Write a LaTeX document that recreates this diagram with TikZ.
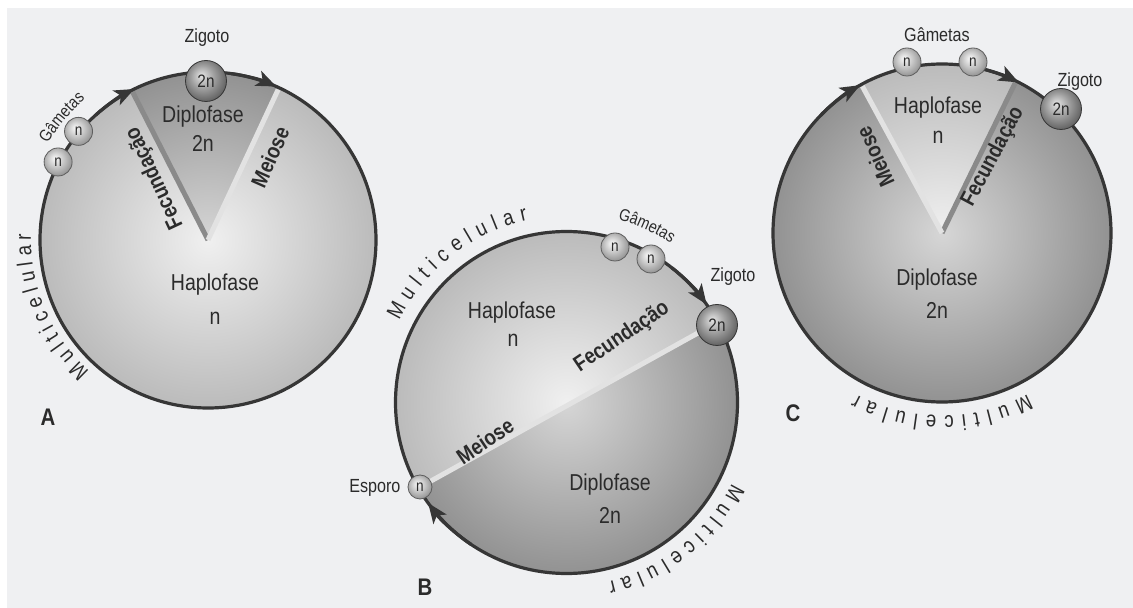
\documentclass[tikz,border=0pt]{standalone}
\usepackage{fontspec}
\setmainfont{Liberation Sans}[FakeStretch=0.85]
\usetikzlibrary{arrows.meta,decorations.text,calc}

\definecolor{bg}{HTML}{EFF0F2}
\definecolor{outl}{HTML}{363636}
\definecolor{txt}{HTML}{2B2B2B}
\definecolor{lc0}{HTML}{F0F0F0}
\definecolor{lc1}{HTML}{BBBBBB}
\definecolor{dc0}{HTML}{D6D6D6}
\definecolor{dc1}{HTML}{929292}
\definecolor{g0}{HTML}{FAFAFA}
\definecolor{g1}{HTML}{C8C8C8}
\definecolor{g2}{HTML}{8C8C8C}
\definecolor{z0}{HTML}{E4E4E4}
\definecolor{z1}{HTML}{A0A0A0}
\definecolor{z2}{HTML}{5A5A5A}
\definecolor{fecl}{HTML}{8A8A8A}
\definecolor{meil}{HTML}{E2E2E2}

\pgfdeclareradialshading{disclight}{\pgfpoint{0bp}{0bp}}{color(0bp)=(lc0); color(25bp)=(lc1); color(50bp)=(lc1)}
\pgfdeclareradialshading{discdark}{\pgfpoint{0bp}{0bp}}{color(0bp)=(dc0); color(25bp)=(dc1); color(50bp)=(dc1)}
\pgfdeclareradialshading{gamball}{\pgfpoint{-6bp}{7bp}}{color(0bp)=(g0); color(14bp)=(g1); color(30bp)=(g2); color(50bp)=(g2)}
\pgfdeclareradialshading{zygball}{\pgfpoint{-6bp}{7bp}}{color(0bp)=(z0); color(14bp)=(z1); color(30bp)=(z2); color(50bp)=(z2)}

\newcommand\mlfont{\fontsize{22}{22}\selectfont\color{txt}}
\newcommand\gmfont{\fontsize{17}{17}\selectfont\color{txt}}

\begin{document}
\begin{tikzpicture}[x=1pt,y=1pt,
  outline/.style={draw=outl, line width=3.2pt},
  tip/.style={draw=outl, line width=3.2pt, -{Stealth[length=20pt,width=16pt,inset=5pt]}},
  phase/.style={font=\fontsize{23}{25}\selectfont, text=txt},
  proc/.style={font=\bfseries\fontsize{22}{22}\selectfont, text=txt},
  small/.style={font=\fontsize{19}{19}\selectfont, text=txt},
  gam/.style={circle, minimum size=28pt, inner sep=0pt, shade, shading=gamball, draw=outl!80, line width=0.8pt, font=\fontsize{16}{16}\selectfont, text=txt},
  zyg/.style={circle, minimum size=41pt, inner sep=0pt, shade, shading=zygball, draw=outl, line width=0.8pt, font=\fontsize{18}{18}\selectfont, text=txt},
  lbl/.style={font=\bfseries\fontsize{24}{24}\selectfont, text=txt},
  arcfit/.style={decorate, decoration={text along path, text align={fit to path}, text={|\mlfont|#1}}},
  arcmid/.style={decorate, decoration={text along path, text align=center, text={|\gmfont|#1}}}
]
\fill[white] (0,0) rectangle (1133,608);
\fill[bg] (7,0) rectangle (1133,600);
\useasboundingbox (0,0) rectangle (1133,608);

% ---------------- A ----------------
\coordinate (cA) at (208,368);
\shade[shading=disclight] (cA) circle[radius=168pt];
\begin{scope}
\clip (cA) -- ($(cA)+(65:168pt)$) arc[start angle=65,end angle=117,radius=168pt] -- cycle;
\shade[shading=discdark] (cA) circle[radius=168pt];
\end{scope}
\draw[fecl, line width=5pt] (cA) -- ($(cA)+(117:166pt)$);
\draw[meil, line width=5pt] (cA) -- ($(cA)+(65:166pt)$);
\draw[outline] (cA) circle[radius=168pt];
\draw[tip] ($(cA)+(132:168pt)$) arc[start angle=132,end angle=116,radius=168pt];
\draw[tip] ($(cA)+(82:168pt)$) arc[start angle=82,end angle=66,radius=168pt];

\node[phase] (hA) at (215,323) {Haplofase};
\node[phase] (nA) at (215,290) {n};
\node[phase] (dA) at (203,491) {Diplofase};
\node[phase] (d2A) at (203,465) {2n};
\node[proc, rotate=115] (fA) at (155,430) {Fecundação};
\node[proc, rotate=66] (mA) at (270,451) {Meiose};

\node[gam] (gA1) at ($(cA)+(140:169pt)$) {n};
\node[gam] (gA2) at ($(cA)+(152.5:169pt)$) {n};
\node[zyg] (zA) at (206,527) {2n};
\node[small] (zlA) at (207,570) {Zigoto};
\path[arcmid=Gâmetas] ($(cA)+(156:187pt)$) arc[start angle=156,end angle=124,radius=187pt];
\path[arcfit=Multicelular] ($(cA)+(228:177pt)$) arc[start angle=228,end angle=178,radius=177pt];
\node[lbl] (lA) at (48,191) {A};

% ---------------- B ----------------
\coordinate (cB) at (566.5,205.5);
\shade[shading=disclight] (cB) circle[radius=171pt];
\begin{scope}
\clip ($(cB)+(28:171pt)$) arc[start angle=28,end angle=-150,radius=171pt] -- cycle;
\shade[shading=discdark] (cB) circle[radius=171pt];
\end{scope}
\draw[meil, line width=5pt] ($(cB)+(28:169pt)$) -- ($(cB)+(210:169pt)$);
\draw[outline] (cB) circle[radius=171pt];
\draw[tip] ($(cB)+(52:171pt)$) arc[start angle=52,end angle=35,radius=171pt];
\draw[tip] ($(cB)+(236:171pt)$) arc[start angle=236,end angle=216,radius=171pt];

\node[phase] (hB) at (512,295) {Haplofase};
\node[phase] (nB) at (513,268) {n};
\node[phase] (dB) at (610,123) {Diplofase};
\node[phase] (d2B) at (610,93) {2n};
\node[proc, rotate=34] (fB) at (622,271) {Fecundação};
\node[proc, rotate=34] (mB) at (485,167) {Meiose};

\node[gam] (gB1) at (615,361) {n};
\node[gam] (gB2) at (651,349) {n};
\node[zyg] (zB) at (717,283) {2n};
\node[gam, minimum size=24pt] (eB) at (420,121) {n};
\node[small] (zlB) at (733,331) {Zigoto};
\node[small, anchor=east] (elB) at (404,120) {Esporo};
\path[arcmid=Gâmetas] ($(cB)+(82:190pt)$) arc[start angle=82,end angle=49,radius=190pt];
\path[arcfit=Multicelular] ($(cB)+(154:186pt)$) arc[start angle=154,end angle=102,radius=186pt];
\path[arcfit=Multicelular] ($(cB)+(-26:184pt)$) arc[start angle=-26,end angle=-77,radius=184pt];
\node[lbl] (lB) at (425,21) {B};

% ---------------- C ----------------
\coordinate (cC) at (942,375);
\shade[shading=discdark] (cC) circle[radius=169pt];
\begin{scope}
\clip (cC) -- ($(cC)+(64:169pt)$) arc[start angle=64,end angle=118.5,radius=169pt] -- cycle;
\shade[shading=disclight] (cC) circle[radius=169pt];
\end{scope}
\draw[fecl, line width=5pt] (cC) -- ($(cC)+(64:167pt)$);
\draw[meil, line width=5pt] (cC) -- ($(cC)+(118.5:167pt)$);
\draw[outline] (cC) circle[radius=169pt];
\draw[tip] ($(cC)+(136:169pt)$) arc[start angle=136,end angle=119,radius=169pt];
\draw[tip] ($(cC)+(76:169pt)$) arc[start angle=76,end angle=63,radius=169pt];

\node[phase] (hC) at (938,500) {Haplofase};
\node[phase] (nC) at (938,471) {n};
\node[phase] (dC) at (937,328) {Diplofase};
\node[phase] (d2C) at (937,298) {2n};
\node[proc, rotate=114] (mC) at (875,451) {Meiose};
\node[proc, rotate=62] (fC) at (993,451) {Fecundação};

\node[gam] (gC1) at (907,546) {n};
\node[gam] (gC2) at (973,546) {n};
\node[zyg] (zC) at (1061,499) {2n};
\node[small] (zlC) at (1080,526) {Zigoto};
\node[small] (glC) at (937,573) {Gâmetas};
\path[arcfit=Multicelular] ($(cC)+(-62:183pt)$) arc[start angle=-62,end angle=-118,radius=183pt];
\node[lbl] (lC) at (793,195) {C};
\end{tikzpicture}
\end{document}
